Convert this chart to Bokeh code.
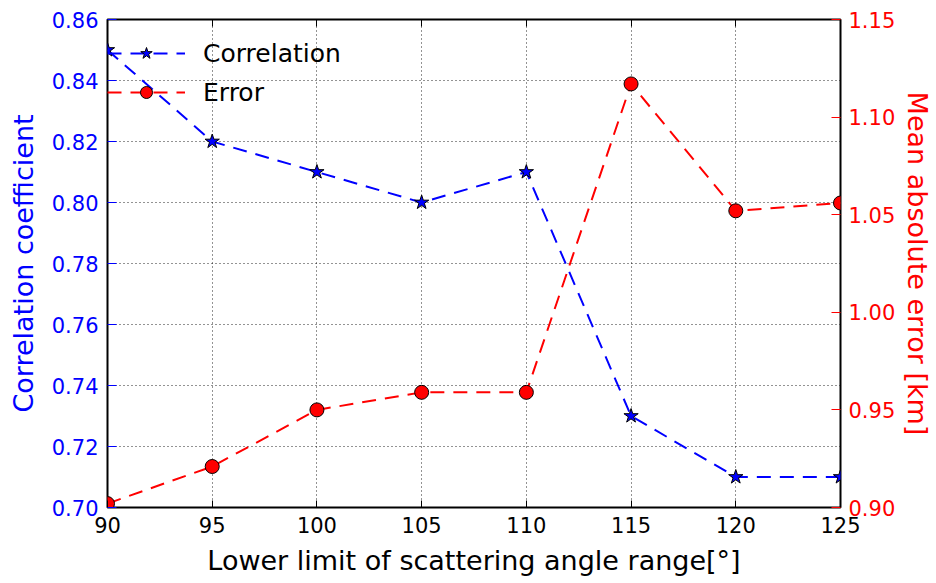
from bokeh.plotting import figure
from bokeh.models import (Range1d, LinearAxis, FixedTicker, Legend, LegendItem,
                          NumeralTickFormatter)
from bokeh.embed import file_html
from bokeh.resources import INLINE

# Lower limit of the scattering angle range (degrees)
angle = [90, 95, 100, 105, 110, 115, 120, 125]
# Correlation coefficient for each lower limit
correlation = [0.85, 0.82, 0.81, 0.80, 0.81, 0.73, 0.71, 0.71]
# Mean absolute error in km for each lower limit
error_km = [0.902, 0.921, 0.950, 0.959, 0.959, 1.117, 1.052, 1.056]

x_ticks = [90, 95, 100, 105, 110, 115, 120, 125]
corr_ticks = [0.70, 0.72, 0.74, 0.76, 0.78, 0.80, 0.82, 0.84, 0.86]
err_ticks = [0.90, 0.95, 1.00, 1.05, 1.10, 1.15]

FONT = "DejaVu Sans"
BLUE = "#0000ff"
RED = "#ff0000"
TICK_FS = "21px"
LABEL_FS = "27px"

W, H = 936, 583
LEFT, RIGHT, TOP, BOTTOM = 107, 96, 19, 76

p = figure(width=W, height=H, output_backend="svg", toolbar_location=None,
           x_range=Range1d(90, 125), y_range=Range1d(0.70, 0.86),
           min_border_left=LEFT, min_border_right=RIGHT,
           min_border_top=TOP, min_border_bottom=BOTTOM,
           x_axis_label="Lower limit of scattering angle range[°]",
           y_axis_label="Correlation coefficient")
p.extra_y_ranges = {"err": Range1d(0.90, 1.15)}

p.outline_line_color = "black"
p.outline_line_width = 2
p.background_fill_color = "white"
p.border_fill_color = "white"

# Bottom axis
xa = p.xaxis[0]
xa.ticker = FixedTicker(ticks=x_ticks)
xa.major_label_text_font = FONT
xa.major_label_text_font_size = TICK_FS
xa.major_label_text_color = "black"
xa.axis_label_text_font = FONT
xa.axis_label_text_font_size = LABEL_FS
xa.axis_label_text_font_style = "normal"
xa.axis_label_text_color = "black"
xa.axis_label_standoff = 9
xa.major_label_standoff = 9
xa.major_tick_in = 7
xa.major_tick_out = 0
xa.major_tick_line_color = "black"
xa.minor_tick_line_color = None
xa.axis_line_color = None

# Left axis (correlation)
ya = p.yaxis[0]
ya.ticker = FixedTicker(ticks=corr_ticks)
ya.formatter = NumeralTickFormatter(format="0.00")
ya.major_label_text_font = FONT
ya.major_label_text_font_size = TICK_FS
ya.major_label_text_color = BLUE
ya.axis_label_text_font = FONT
ya.axis_label_text_font_size = LABEL_FS
ya.axis_label_text_font_style = "normal"
ya.axis_label_text_color = BLUE
ya.axis_label_standoff = 10
ya.major_label_standoff = 9
ya.major_tick_in = 9
ya.major_tick_out = 0
ya.major_tick_line_color = BLUE
ya.minor_tick_line_color = None
ya.axis_line_color = None

# Right axis (error)
ra = LinearAxis(y_range_name="err", axis_label="Mean absolute error [km]")
ra.ticker = FixedTicker(ticks=err_ticks)
ra.formatter = NumeralTickFormatter(format="0.00")
ra.major_label_text_font = FONT
ra.major_label_text_font_size = TICK_FS
ra.major_label_text_color = RED
ra.major_label_standoff = 8
ra.axis_label_text_font = FONT
ra.axis_label_text_font_size = LABEL_FS
ra.axis_label_text_font_style = "normal"
ra.axis_label_text_color = RED
ra.axis_label_standoff = 4
ra.major_tick_in = 9
ra.major_tick_out = 0
ra.major_tick_line_color = RED
ra.minor_tick_line_color = None
ra.axis_line_color = None
p.add_layout(ra, "right")

# Top axis: ticks only
ta = LinearAxis()
ta.ticker = FixedTicker(ticks=x_ticks)
ta.major_label_text_color = None
ta.major_label_text_font_size = "0px"
ta.major_tick_in = 7
ta.major_tick_out = 0
ta.major_tick_line_color = "black"
ta.minor_tick_line_color = None
ta.axis_line_color = None
p.add_layout(ta, "above")

# Dotted grid
for g in (p.xgrid[0], p.ygrid[0]):
    g.grid_line_color = "black"
    g.grid_line_dash = "1 3"
    g.grid_line_width = 1
    g.grid_line_alpha = 0.85
p.xgrid[0].ticker = FixedTicker(ticks=x_ticks)
p.ygrid[0].ticker = FixedTicker(ticks=corr_ticks)

# Correlation series
corr_line = p.line(angle, correlation, line_color=BLUE, line_width=2,
                   line_dash="14 9")
corr_pts = p.scatter(angle, correlation, marker="star", size=15,
                     fill_color=BLUE, line_color="black", line_width=1)

# Error series on the secondary axis
err_line = p.line(angle, error_km, line_color=RED, line_width=2,
                  line_dash="14 9", y_range_name="err")
err_pts = p.scatter(angle, error_km, marker="circle", size=14,
                    fill_color=RED, line_color="black", line_width=1,
                    y_range_name="err")

legend = Legend(items=[
    LegendItem(label="Correlation", renderers=[corr_line, corr_pts]),
    LegendItem(label="Error", renderers=[err_line, err_pts]),
], location=(0, 400))
legend.border_line_color = None
legend.background_fill_alpha = 0
legend.label_text_font = FONT
legend.label_text_font_size = "25px"
legend.label_text_color = "black"
legend.glyph_width = 78
legend.glyph_height = 30
legend.label_standoff = 18
legend.spacing = 9
legend.padding = 5
legend.margin = 0
legend.label_height = 30
p.add_layout(legend, "center")

open("out.html", "w").write(file_html(p, INLINE))
